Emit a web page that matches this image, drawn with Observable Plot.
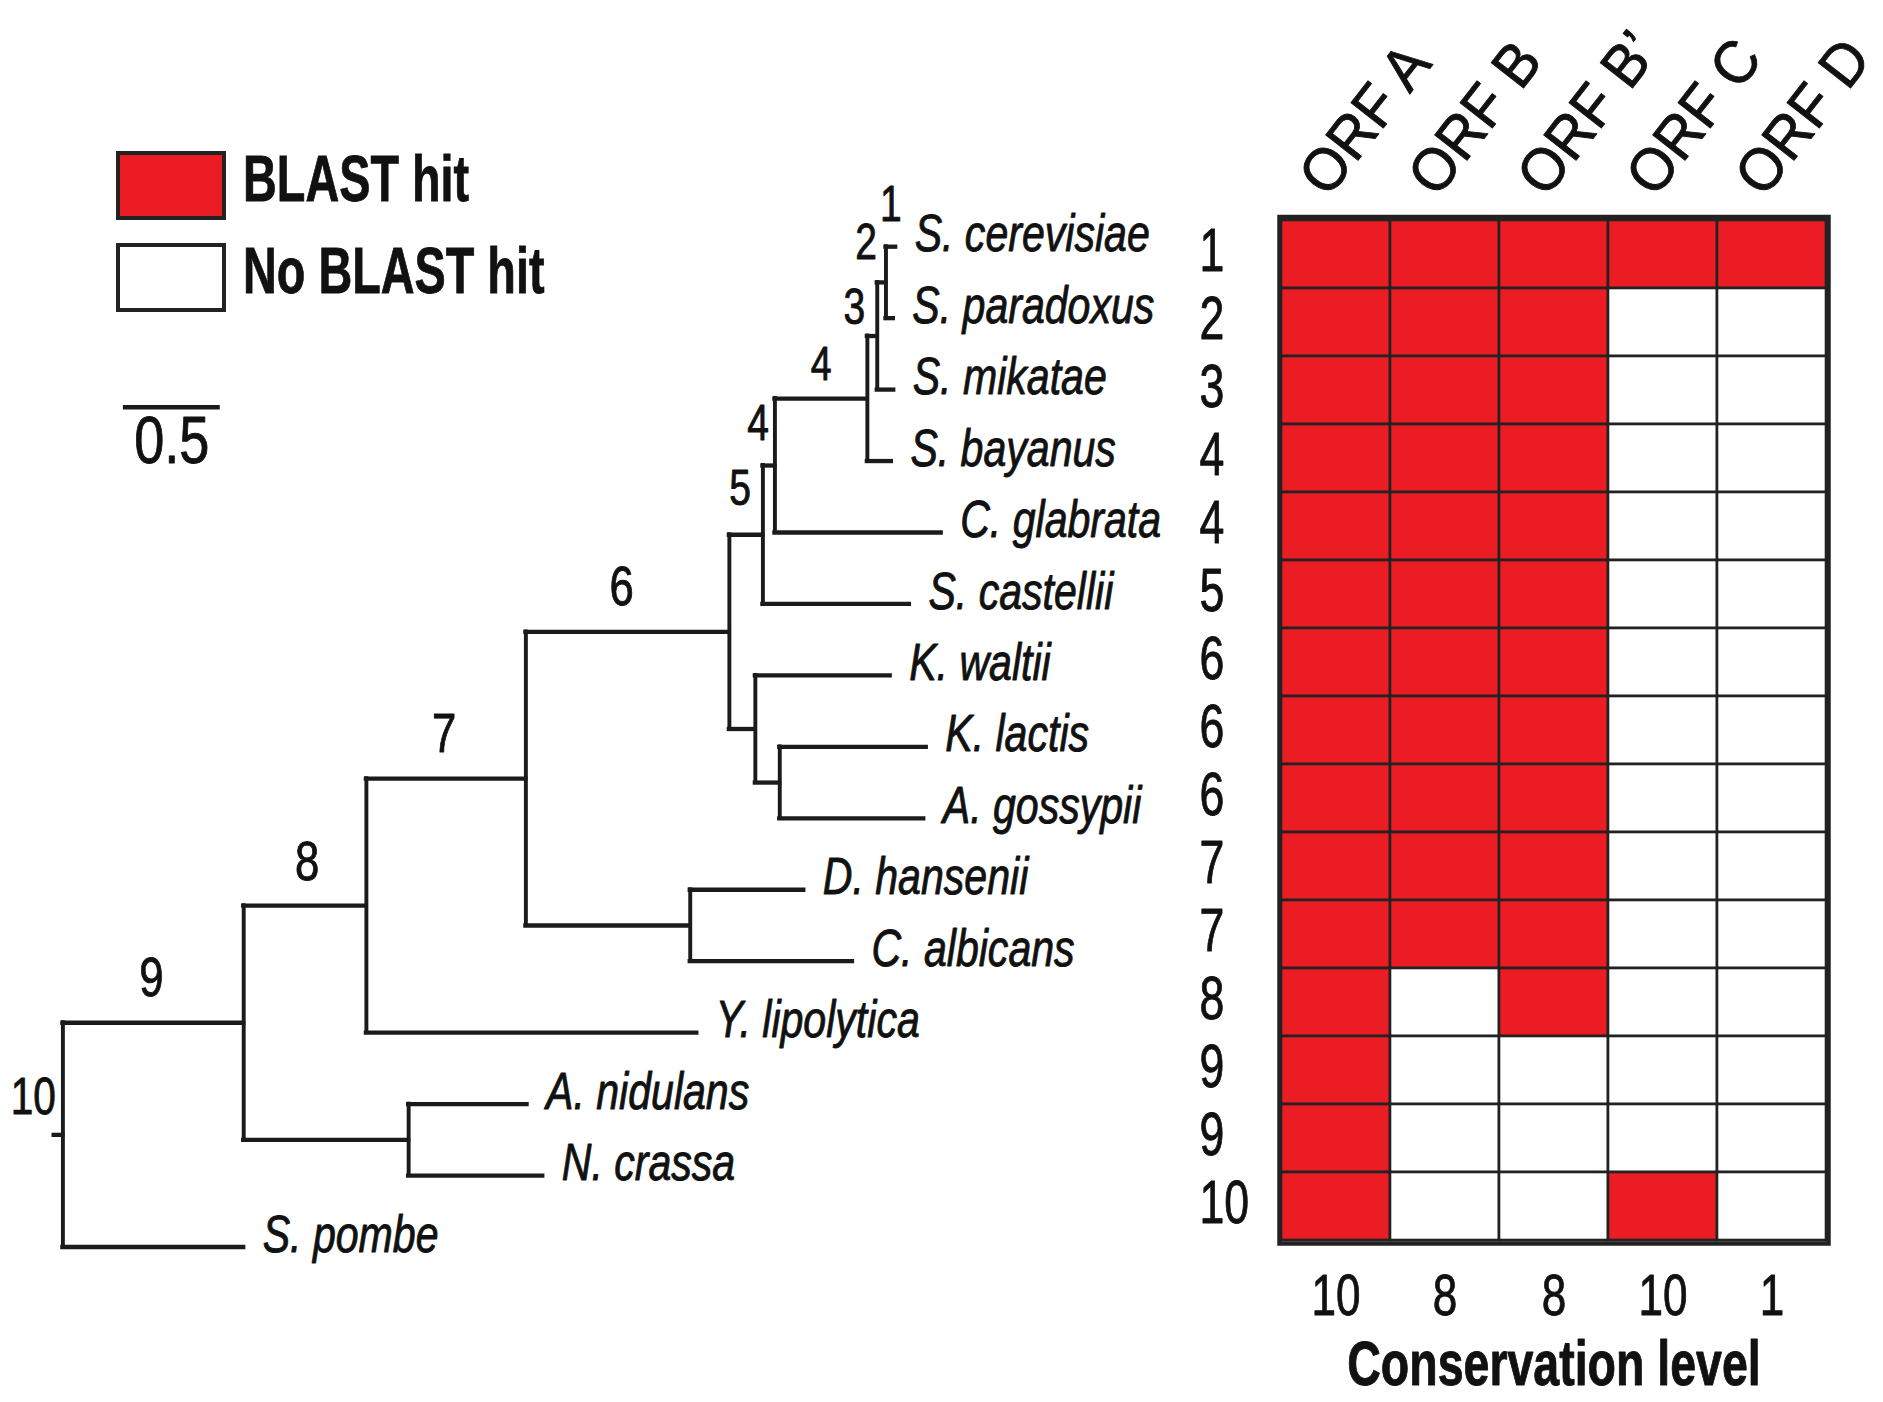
<!DOCTYPE html>
<html><head><meta charset="utf-8">
<script src="https://cdn.jsdelivr.net/npm/d3@7"></script>
<script src="https://cdn.jsdelivr.net/npm/@observablehq/plot@0.6"></script>
<style>
body{margin:0;background:#fff;}
#chart{position:relative;width:1883px;height:1402px;overflow:hidden;font-family:"Liberation Sans",Arial,sans-serif;}
#chart svg{position:absolute;left:0;top:0;}
.legbox{position:absolute;box-sizing:border-box;border:4px solid #222;}
.legtxt{position:absolute;font-weight:bold;font-size:65px;line-height:65px;white-space:nowrap;color:#111;transform:scaleX(0.72);transform-origin:0 0;-webkit-text-stroke:0.8px #111;}
</style></head><body><div id="chart"></div>
<script>
// ---------- DATA ----------
const species = ["S. cerevisiae","S. paradoxus","S. mikatae","S. bayanus","C. glabrata","S. castellii","K. waltii","K. lactis","A. gossypii","D. hansenii","C. albicans","Y. lipolytica","A. nidulans","N. crassa","S. pombe"];
const speciesConservation = [1,2,3,4,4,5,6,6,6,7,7,8,9,9,10];
const orfs = ["ORF A","ORF B","ORF B’","ORF C","ORF D"];
const orfConservation = [10,8,8,10,1];
const blastHits = [
  [1,1,1,1,1],
  [1,1,1,0,0],
  [1,1,1,0,0],
  [1,1,1,0,0],
  [1,1,1,0,0],
  [1,1,1,0,0],
  [1,1,1,0,0],
  [1,1,1,0,0],
  [1,1,1,0,0],
  [1,1,1,0,0],
  [1,1,1,0,0],
  [1,0,1,0,0],
  [1,0,0,0,0],
  [1,0,0,0,0],
  [1,0,0,1,0]
];
// tree: node, parent, branch length
const treeNodes   = ["root","n9","S. pombe","n8","nPez","A. nidulans","N. crassa","Y. lipolytica","n7","nDC","D. hansenii","C. albicans","n6","nK","K. waltii","nLG","K. lactis","A. gossypii","n5","S. castellii","n4b","C. glabrata","n4a","S. bayanus","n3","S. mikatae","n2","S. cerevisiae","S. paradoxus"];
const treeParents = [null,"root","root","n9","n9","nPez","nPez","n8","n8","n7","nDC","nDC","n7","n6","nK","nK","nLG","nLG","n6","n5","n5","n4b","n4b","n4a","n4a","n3","n3","n2","n2"];
const branchLengths = [0,0.933,0.933,0.633,0.851,0.611,0.692,1.705,0.823,0.848,0.586,0.837,1.050,0.134,0.696,0.126,0.756,0.743,0.173,0.756,0.062,0.858,0.477,0.124,0.051,0.085,0.045,0.050,0.038];
const rootStub = 0.045;
const nodeLabelNodes = ["S. cerevisiae","n2","n3","n4a","n4b","n5","n6","n7","n8","n9","root"];
const nodeLabelTexts = ["1","2","3","4","4","5","6","7","8","9","10"];
const scaleBarLength = 0.5;
const legendItems = ["BLAST hit","No BLAST hit"];

// ---------- LAYOUT / STYLE ----------
const RED = "#ec1c24", INK = "#1b1b1b", TXT = "#111";
const FONT = "Liberation Sans, Arial, Helvetica, sans-serif";
const labelLayout = [
  {kind:"branch", dx:0,   dy:-42, fs:50},
  {kind:"node",   dx:-9,  dy:-39, fs:50},
  {kind:"node",   dx:-12, dy:-28, fs:50},
  {kind:"branch", dx:0,   dy:-34, fs:48},
  {kind:"node",   dx:-6,  dy:-42, fs:50},
  {kind:"node",   dx:-12, dy:-46, fs:50},
  {kind:"branch", dx:-6,  dy:-45, fs:56},
  {kind:"branch", dx:-2,  dy:-45, fs:56},
  {kind:"branch", dx:2,   dy:-44, fs:56},
  {kind:"branch", dx:-2,  dy:-45, fs:56},
  {kind:"node",   dx:-7,  dy:-38, fs:52}
];
const scaleBarPos = {x: 0.312, y: 2.246};
const heavy = {stroke: TXT, strokeWidth: 0.9};

// ---------- TREE LAYOUT ----------
const idx = new Map(treeNodes.map((n,i)=>[n,i]));
const children = treeNodes.map(()=>[]);
treeParents.forEach((p,i)=>{ if(p!==null) children[idx.get(p)].push(i); });
const X = [], Y = [];
(function setX(i,x){ X[i]=x; children[i].forEach(c=>setX(c, x+branchLengths[c])); })(0,0);
(function setY(i){
  if(!children[i].length){ Y[i]=species.indexOf(treeNodes[i]); return Y[i]; }
  const ys = children[i].map(setY); Y[i]=(d3.min(ys)+d3.max(ys))/2; return Y[i];
})(0);
const nodes = treeNodes.map((name,i)=>({
  name, x:X[i], y:Y[i],
  px: treeParents[i]===null ? X[i]-rootStub : X[idx.get(treeParents[i])],
  leaf: !children[i].length,
  y1: children[i].length ? d3.min(children[i], c=>Y[c]) : null,
  y2: children[i].length ? d3.max(children[i], c=>Y[c]) : null
}));
const leaves = nodes.filter(d=>d.leaf);
const internals = nodes.filter(d=>!d.leaf);

const labelMarks = nodeLabelNodes.map((n,i)=>{
  const nd = nodes[idx.get(n)], L = labelLayout[i];
  const datum = {x: L.kind==="branch" ? (nd.px+nd.x)/2 : nd.x, y: nd.y, t: nodeLabelTexts[i]};
  return Plot.text([datum], {x:"x", y:"y", text:"t", dx:L.dx, dy:L.dy,
    textAnchor: L.kind==="branch" ? "middle" : "end", lineAnchor:"middle",
    fontSize:L.fs, fill:TXT, ...heavy, ariaDescription:"treenum"});
});

const treePlot = Plot.plot({
  width:1883, height:1402, margin:0,
  x:{domain:[0,5], range:[62.4, 62.4+5*193.8], axis:null},
  y:{domain:[0,14], range:[246.2, 246.2+14*71.45], axis:null},
  style:{fontFamily:FONT, background:"white"},
  marks:[
    Plot.ruleY(nodes, {y:"y", x1:"px", x2:"x", stroke:INK, strokeWidth:4.3, strokeLinecap:"square"}),
    Plot.ruleX(internals, {x:"x", y1:"y1", y2:"y2", stroke:INK, strokeWidth:3.9, strokeLinecap:"square"}),
    Plot.text(leaves, {x:"x", y:"y", text:"name", dx:19, dy:-12, textAnchor:"start", lineAnchor:"middle",
      fontSize:52, fontStyle:"italic", fill:TXT, ...heavy, ariaDescription:"species"}),
    ...labelMarks,
    Plot.ruleY([scaleBarPos], {y:"y", x1:"x", x2:d=>d.x+scaleBarLength, stroke:INK, strokeWidth:4.4}),
    Plot.text([scaleBarPos], {x:d=>d.x+scaleBarLength/2, y:"y", text:()=>String(scaleBarLength), dy:35,
      lineAnchor:"middle", fontSize:66, fill:TXT, ...heavy, ariaDescription:"scalebar"})
  ]
});

// ---------- GRID ----------
const cells = species.flatMap((s,i)=>orfs.map((o,j)=>({species:s, orf:o, hit:blastHits[i][j]})));
const gridPlot = Plot.plot({
  width:1883, height:1402,
  marginLeft:1279, marginRight:55, marginTop:216.5, marginBottom:159,
  x:{domain:orfs, padding:0, axis:null},
  y:{domain:species, padding:0, axis:null},
  color:{type:"identity"},
  style:{fontFamily:FONT, background:"transparent"},
  marks:[
    Plot.cell(cells, {x:"orf", y:"species", fill:d=>d.hit?RED:"white", stroke:"#222", strokeWidth:2.6, inset:0}),
    Plot.frame({stroke:"#222", strokeWidth:4.5}),
    Plot.text(orfs, {x:d=>d, text:d=>d, frameAnchor:"top", dx:-8, dy:-18, rotate:-52,
      textAnchor:"start", lineAnchor:"bottom", fontSize:60, fill:TXT, ...heavy, ariaDescription:"orf"}),
    Plot.text(species.map((s,i)=>({s, c:speciesConservation[i]})), {y:"s", text:d=>String(d.c), frameAnchor:"left",
      dx:-80, dy:-3, textAnchor:"start", lineAnchor:"middle", fontSize:62, fill:TXT, ...heavy, ariaDescription:"rownum"}),
    Plot.text(orfs.map((o,i)=>({o, c:orfConservation[i]})), {x:"o", text:d=>String(d.c), frameAnchor:"bottom",
      dy:53, lineAnchor:"middle", fontSize:58, fill:TXT, ...heavy, ariaDescription:"colnum"}),
    Plot.text(["Conservation level"], {text:d=>d, frameAnchor:"bottom", dy:122, lineAnchor:"middle",
      fontSize:62, fontWeight:"bold", fill:TXT, ...heavy, ariaDescription:"title"})
  ]
});

// condense text (narrow Helvetica look)
function condense(svg, desc, k){
  svg.querySelectorAll(`g[aria-description="${desc}"] text`).forEach(t=>{
    let tr = t.getAttribute("transform") || "";
    const x = t.getAttribute("x");
    if (x && !/em$/.test(x)) { tr += ` translate(${x},0)`; t.removeAttribute("x"); }
    const y = t.getAttribute("y");
    if (y && !/em$/.test(y)) { tr += ` translate(0,${y})`; t.removeAttribute("y"); }
    t.setAttribute("transform", `${tr} scale(${k},1)`);
  });
}
condense(treePlot, "species", 0.79);
condense(treePlot, "treenum", 0.78);
condense(treePlot, "scalebar", 0.82);
condense(gridPlot, "orf", 0.95);
condense(gridPlot, "rownum", 0.72);
condense(gridPlot, "colnum", 0.76);
condense(gridPlot, "title", 0.75);

const chart = document.getElementById("chart");
chart.appendChild(treePlot);
chart.appendChild(gridPlot);

// ---------- LEGEND (HTML) ----------
const legendFill = [RED, "white"];
const legendTop = [151, 243];
legendItems.forEach((lab,i)=>{
  const b = document.createElement("div");
  b.className = "legbox";
  Object.assign(b.style, {left:"116px", top:legendTop[i]+"px", width:"110px", height:"69px", background:legendFill[i]});
  chart.appendChild(b);
  const t = document.createElement("div");
  t.className = "legtxt";
  t.textContent = lab;
  Object.assign(t.style, {left:"243px", top:(legendTop[i]-5)+"px"});
  chart.appendChild(t);
});
</script></body></html>
